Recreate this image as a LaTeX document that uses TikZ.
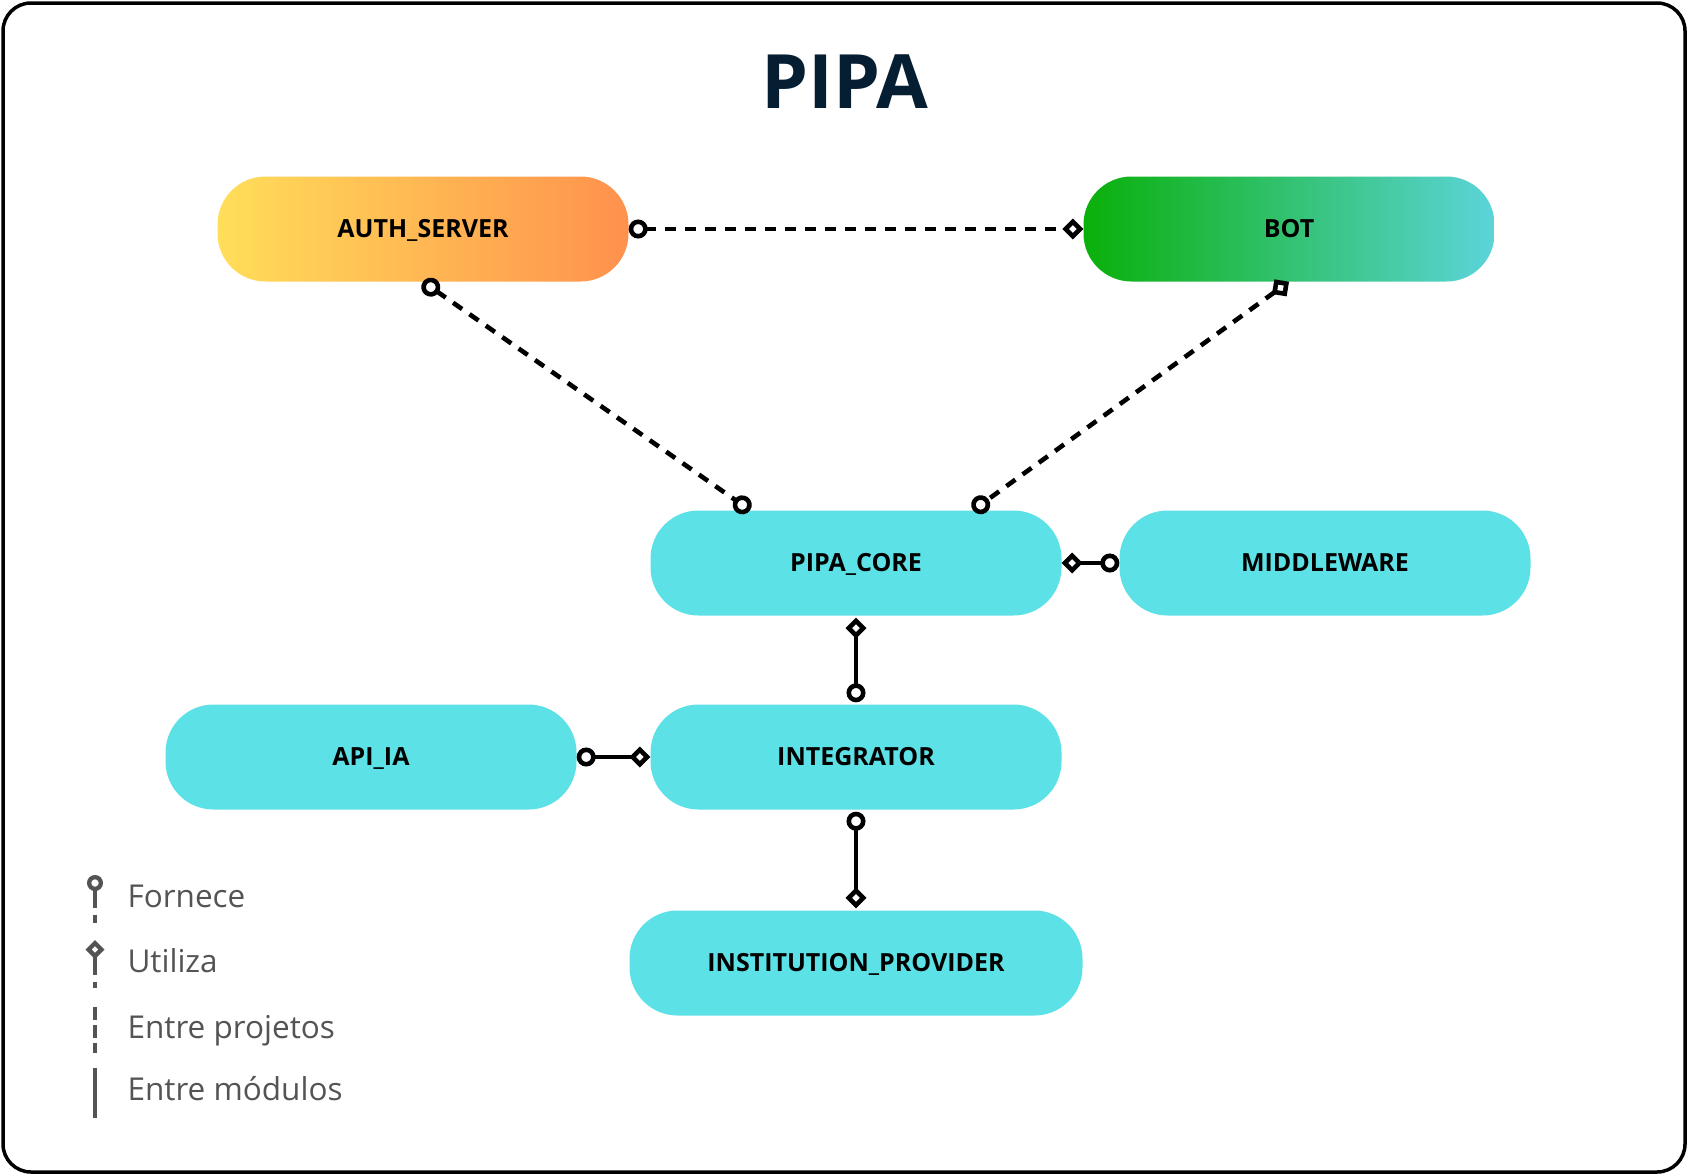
\documentclass[tikz,border=0pt]{standalone}
\usepackage{fontspec}
\setmainfont{Open Sans}
\usetikzlibrary{arrows.meta}

\definecolor{titleblue}{RGB}{6,30,50}
\definecolor{authleft}{RGB}{255,222,89}
\definecolor{authright}{RGB}{255,145,77}
\definecolor{botleft}{RGB}{10,176,10}
\definecolor{botright}{RGB}{92,212,218}
\definecolor{modcyan}{RGB}{92,225,230}
\definecolor{leggray}{RGB}{84,84,84}

\tikzset{
	pv/.tip={Circle[open, length=19pt, width=19pt]},
	ut/.tip={Diamond[open, length=21pt, width=21pt]},
	lpv/.tip={Circle[open, length=16pt, width=16pt]},
	lut/.tip={Diamond[open, length=19pt, width=19pt]},
}

\begin{document}
\begin{tikzpicture}[x=1pt, y=-1pt,
		box/.style = {rounded corners=48pt, minimum width=411pt, minimum height=105pt,
			inner sep=0pt, font=\fontsize{25}{30}\selectfont\bfseries,
			text height=17.8pt, text depth=0pt},
		module/.style = {box, fill=modcyan},
		link/.style = {line width=4.6pt, black},
		projlink/.style = {link, dash pattern=on 11pt off 9pt},
		legline/.style = {line width=4.3pt, leggray},
		legtext/.style = {anchor=base west, text=leggray, font=\fontsize{31.5}{38}\selectfont}]
	\useasboundingbox (0,0) rectangle (1688,1175);
	\draw [line width=3.5pt, rounded corners=28pt] (3,3) rectangle (1685,1172);
	
	\node [anchor=base, text=titleblue, font=\fontsize{75}{85}\selectfont\bfseries] (title) at (845,108) {PIPA};
	
	% projetos
	\node [box, left color=authleft, right color=authright] (auth) at (423,229) {AUTH\_SERVER};
	\node [box, left color=botleft, right color=botright] (bot) at (1289,229) {BOT};
	
	% modulos
	\node [module] (core) at (856,563) {PIPA\_CORE};
	\node [module] (middleware) at (1325,563) {MIDDLEWARE};
	\node [module] (integrator) at (856,757) {INTEGRATOR};
	\node [module] (apiia) at (371,757) {API\_IA};
	\node [module, minimum width=453pt] (provider) at (856,963) {INSTITUTION\_PROVIDER};
	
	\begin{scope}[projlink]
		\draw [{pv}-{ut}] (auth.east) -- (bot.west);
		\draw [{pv}-{pv}] (auth.south) -- ([xshift=-106pt]core.north);
		\draw [{ut}-{pv}] (bot.south) -- ([xshift=117pt]core.north);
	\end{scope}
	
	\begin{scope}[link]
		\draw [{ut}-{pv}] (core.east) -- (middleware.west);
		\draw [{ut}-{pv}] ([yshift=-2pt]core.south) -- ([yshift=2pt]integrator.north);
		\draw [{pv}-{ut}] (apiia.east) -- (integrator.west);
		\draw [{pv}-{ut}] ([yshift=-2pt]integrator.south) -- ([yshift=2pt]provider.north);
	\end{scope}
	
	% legenda
	\coordinate (fa) at (95,875); \coordinate (fb) at (95,923);
	\coordinate (ua) at (95,940); \coordinate (ub) at (95,988);
	\coordinate (pa) at (95,1007); \coordinate (pb) at (95,1053);
	\coordinate (ma) at (95,1068); \coordinate (mb) at (95,1118);
	\draw [legline, dash pattern=on 19pt off 7pt, {lpv}-] (fa) -- (fb);
	\draw [legline, dash pattern=on 19pt off 7pt, {lut}-] (ua) -- (ub);
	\draw [legline, dash pattern=on 13pt off 5pt] (pa) -- (pb);
	\draw [legline] (ma) -- (mb);
	
	\node [legtext] (lfornece) at (124,907) {Fornece};
	\node [legtext] (lutiliza) at (124,972) {Utiliza};
	\node [legtext] (lprojetos) at (124,1038) {Entre projetos};
	\node [legtext] (lmodulos) at (124,1100) {Entre módulos};
\end{tikzpicture}
\end{document}
